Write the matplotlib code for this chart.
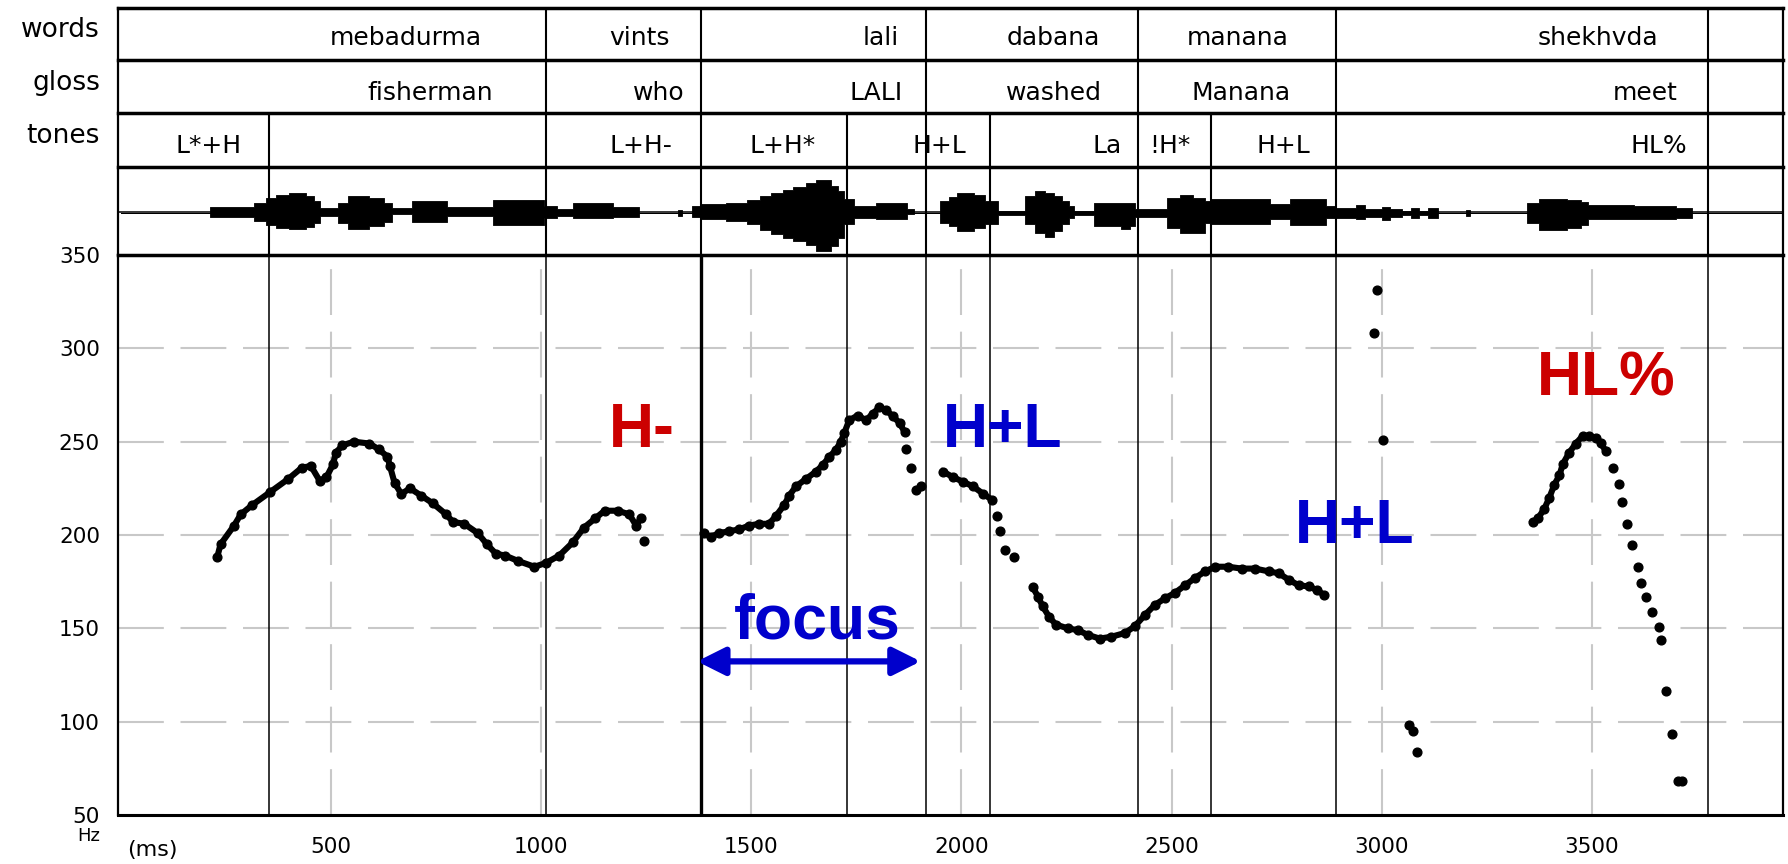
import matplotlib
matplotlib.use('Agg')
import matplotlib.pyplot as plt

'''
tiers (times in ms)
'''
word_bounds = [1012, 1380, 1916, 2420, 2892, 3776]
tone_bounds = [352, 1728, 2069, 2595]
words    = ['mebadurma', 'vints', 'lali', 'dabana', 'manana', 'shekhvda']
words_at = [859, 1306, 1851, 2329, 2779, 3657]
gloss    = ['fisherman', 'who', 'LALI', 'washed', 'Manana', 'meet']
gloss_at = [885, 1342, 1861, 2334, 2784, 3705]
tones    = ['L*+H', 'L+H-', 'L+H*', 'H+L', 'La', '!H*', 'H+L', 'HL%']
tones_at = [286, 1311, 1654, 2011, 2382, 2546, 2829, 3726]

'''
waveform envelope (step values, px above / below the zero line)
'''
wave_t  = [0, 213, 316, 346, 370, 400, 440, 460, 474, 516, 540, 590, 625, 644, 692, 777, 886,
           1006, 1038, 1075, 1172, 1232, 1325, 1335, 1360, 1378, 1440, 1490, 1520, 1548, 1575,
           1600, 1630, 1655, 1690, 1706, 1720, 1745, 1797, 1870, 1888, 1949, 1970, 1990, 2030,
           2055, 2086, 2152, 2175, 2200, 2220, 2240, 2256, 2267, 2316, 2380, 2400, 2413, 2490,
           2520, 2550, 2580, 2592, 2734, 2782, 2867, 2891, 2940, 2960, 3000, 3020, 3048, 3070,
           3090, 3110, 3133, 3200, 3210, 3345, 3375, 3440, 3475, 3490, 3600, 3700, 3738, 3955]
wave_up = [0, 6, 10, 15, 18, 20, 17, 12, 5, 10, 16.7, 15, 10, 5, 11.7, 6, 12.3,
           6.7, 3.3, 9.3, 6, 0, 3, 0, 6.7, 8.3, 10, 13, 17, 20, 23,
           26, 30, 33, 27, 21.7, 13.3, 6.7, 9.3, 3.3, 0, 12, 16, 20, 18,
           11.7, 2, 16.7, 21.7, 20, 16.7, 11.7, 6.7, 2, 10, 10, 10, 4, 15,
           17.7, 15, 11.7, 13.3, 8.3, 13.3, 6.7, 5, 8, 4, 6, 4, 2, 5,
           2, 5, 0, 3, 0, 10, 13.3, 12.5, 11, 7.7, 6.7, 5, 0, 0]
wave_lo = [0, 4.3, 8.3, 12, 15, 16.7, 14, 10, 3.3, 10, 16.7, 13, 9, 1.7, 9, 3.3, 12.3,
           5, 3.3, 5.7, 4.3, 0, 3, 0, 4.3, 6.7, 8, 11.7, 17, 21.7, 25,
           28, 32, 38, 33, 25, 11.7, 5, 6.7, 1.7, 0, 10, 13, 18, 15,
           11.7, 2, 11.7, 20, 24, 18.3, 11.7, 5, 2, 13.3, 16.7, 13, 4, 15,
           20, 20, 10, 11, 6.7, 12.3, 5, 5, 6, 4, 7, 4, 2, 5,
           2, 5, 0, 3, 0, 10, 17.7, 15, 12, 6.7, 6, 5, 0, 0]

'''
F0 (Hz), continuous stretches and loose points
'''
t1 = [229, 237, 269, 285, 312, 355, 398, 430, 452, 473, 489, 505, 511, 527, 554, 591, 613, 634,
      640, 651, 667, 688, 715, 742, 774, 790, 817, 849, 871, 892, 914, 946, 984, 1011, 1043,
      1075, 1102, 1129, 1151, 1183, 1210, 1226, 1237]
f1 = [188, 195, 205, 211, 216, 223, 230, 236, 237, 229, 231, 238, 244, 248, 250, 249, 246, 242,
      237, 228, 222, 225, 221, 217, 211, 207, 206, 201, 195, 190, 189, 186, 183, 185, 189,
      196, 204, 209, 213, 213, 211, 205, 209]
t2 = [1387, 1403, 1423, 1447, 1471, 1494, 1518, 1542, 1558, 1578, 1590, 1606, 1630, 1654, 1670,
      1686, 1701, 1713, 1721, 1733, 1753, 1773, 1789, 1805, 1821, 1837, 1853, 1865]
f2 = [201, 199, 201, 202, 203, 205, 206, 206, 210, 216, 221, 226, 230, 234, 237.5,
      242, 245.5, 250, 254.5, 261.5, 264, 261.5, 265, 268.5, 267, 263.5, 260, 255]
t3 = [1956, 1980, 2004, 2028, 2052, 2072]
f3 = [234, 231, 228.5, 226, 222, 219]
t4 = [2170, 2182, 2193, 2209, 2225, 2253, 2277, 2301, 2329, 2357, 2389, 2412, 2436, 2460, 2484,
      2508, 2532, 2556, 2580, 2604, 2635, 2667, 2699, 2731, 2755, 2779, 2803, 2826, 2846, 2862]
f4 = [172, 167, 162, 156, 152, 150, 149, 146.5, 144.5, 145.5, 147.5, 151, 157, 162.5, 166,
      169, 173, 177, 180.5, 183, 183, 182, 182, 180.5, 179.5, 176, 173, 172.5, 170.5, 168]
t5 = [3360, 3372, 3387, 3399, 3411, 3423, 3431, 3446, 3462, 3478, 3494, 3509, 3521, 3533]
f5 = [207, 209, 214, 220, 227, 232, 238, 244, 249, 253, 253, 252, 249.5, 245]

dots_t = [1245, 1868, 1881, 1893, 1904, 2084, 2092, 2104, 2124, 2982, 2990, 3002, 3064, 3074,
          3084, 3551, 3565, 3572, 3584, 3596, 3609, 3617, 3630, 3643, 3659, 3665, 3677, 3691,
          3706, 3714]
dots_f = [197, 246, 236, 224, 226, 210, 202, 192, 188, 308, 331, 251, 98, 95,
          83.5, 236, 227.5, 217.5, 206, 194.5, 183, 174.5, 167, 159, 150.5, 144, 116.5, 93.5,
          68, 68]

xticks = [500, 1000, 1500, 2000, 2500, 3000, 3500]
yticks = [50, 100, 150, 200, 250, 300, 350]

red = '#cc0000'
blue = '#0000cc'

'''
=-=-=-=
 Figure
=-=-=-=
'''
W, H = 1788, 864
x0, x1 = 118, 1783
rows = [8, 60, 113, 167, 255]
ybot = 815
xlim = (-7, 3955)

fig = plt.figure(figsize=(W/100, H/100), dpi=100)
ax_p = fig.add_axes([x0/W, 1-ybot/H, (x1-x0)/W, (ybot-rows[-1])/H])
ax_t = fig.add_axes([x0/W, 1-rows[-1]/H, (x1-x0)/W, (rows[-1]-rows[0])/H])
ax_t.set_facecolor('none')

# tiers
ax_t.set_xlim(*xlim)
ax_t.set_ylim(rows[-1], rows[0])
ax_t.set_xticks([])
ax_t.set_yticks([])
for s in ['top', 'bottom']:
    ax_t.spines[s].set_visible(False)
for s in ['left', 'right']:
    ax_t.spines[s].set_linewidth(1.6)
for y in rows:
    ax_t.axhline(y, color='k', lw=2.5, clip_on=False, zorder=5)
ax_t.vlines(word_bounds, rows[0], rows[-1], color='k', lw=1.5)
ax_t.vlines(tone_bounds, rows[2], rows[-1], color='k', lw=1.5)

tf = dict(fontsize=18, family='DejaVu Sans', ha='right', va='baseline')
for lab, t in zip(words, words_at):
    ax_t.text(t, 45, lab, **tf)
for lab, t in zip(gloss, gloss_at):
    ax_t.text(t, 100, lab, **tf)
for lab, t in zip(tones, tones_at):
    ax_t.text(t, 153, lab, **tf)
for lab, y in zip(['words', 'gloss', 'tones'], [37, 90, 143]):
    ax_t.text(-50, y, lab, fontsize=19, family='DejaVu Sans', ha='right', va='baseline',
              clip_on=False)

# waveform
zero = 212.5
ax_t.hlines(zero, xlim[0], xlim[1], color='k', lw=1.1)
ax_t.fill_between(wave_t, [zero-u for u in wave_up], [zero+l for l in wave_lo],
                  step='post', color='k', lw=0.6)

# pitch panel
ax_p.set_xlim(*xlim)
ax_p.set_ylim(50, 350)
ax_p.set_xticks(xticks)
ax_p.set_yticks(yticks)
ax_p.set_xticklabels([str(v) for v in xticks])
ax_p.set_yticklabels([str(v) for v in yticks])
ax_p.tick_params(length=0, labelsize=15.5)
ax_p.tick_params(axis='x', pad=16)
ax_p.tick_params(axis='y', pad=13)
ax_p.set_axisbelow(True)
ax_p.grid(True, color='#c8c8c8', lw=1.5, linestyle=(0, (22, 8)))
ax_p.spines['top'].set_visible(False)
for s in ['left', 'right']:
    ax_p.spines[s].set_linewidth(1.6)
ax_p.spines['bottom'].set_linewidth(2.2)

for b in word_bounds + tone_bounds:
    ax_p.axvline(b, color='k', lw=2.4 if b == 1380 else 1.1)

for t, f in [(t1, f1), (t2, f2), (t3, f3), (t4, f4), (t5, f5)]:
    ax_p.plot(t, f, '-o', color='k', lw=4.4, ms=6.3)
ax_p.plot(dots_t, dots_f, 'o', color='k', ms=6.3, lw=0)

ax_p.text(-50, 38.5, 'Hz', fontsize=13, ha='right', va='center', clip_on=False)
ax_p.text(74, 31.5, '(ms)', fontsize=16, ha='center', va='center', clip_on=False)

# annotations
af = dict(fontsize=45, family='Liberation Sans', fontweight='bold', va='baseline')
ax_p.text(1161, 247, 'H-', color=red, ha='left', **af)
ax_p.text(1957, 247, 'H+L', color=blue, ha='left', **af)
ax_p.text(2793, 195.5, 'H+L', color=blue, ha='left', **af)
ax_p.text(3534, 274.5, 'HL%', color=red, ha='center', **af)
ax_p.text(1657, 144.7, 'focus', color=blue, ha='center', **af)
ax_p.annotate('', xy=(1903, 132.3), xytext=(1371, 132.3),
              arrowprops=dict(arrowstyle='<|-|>,head_length=0.7,head_width=0.35',
                              color=blue, lw=4.5, shrinkA=0, shrinkB=0, mutation_scale=24))

fig.savefig('out.png', dpi=100)
